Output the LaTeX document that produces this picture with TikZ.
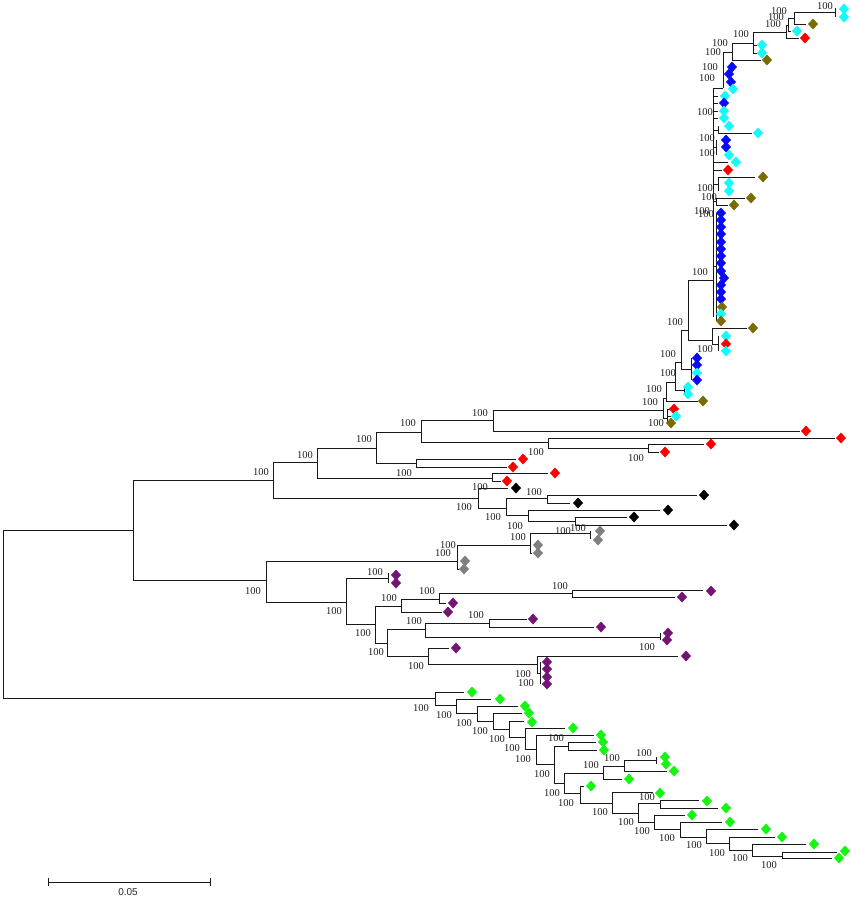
\documentclass[tikz,border=0pt]{standalone}
\usepackage{fontspec}
\usetikzlibrary{calc}
\setmainfont{Liberation Serif}
\setsansfont{Liberation Sans}
\definecolor{cy}{RGB}{20,250,250}
\definecolor{bl}{RGB}{10,10,245}
\definecolor{ol}{RGB}{122,108,0}
\definecolor{pu}{RGB}{118,20,118}
\definecolor{gr}{RGB}{20,245,20}
\definecolor{rd}{RGB}{250,0,0}
\definecolor{gy}{RGB}{128,128,128}
\definecolor{bk}{RGB}{0,0,0}
\newcounter{lbn}
\newcommand{\lb}[2]{\stepcounter{lbn}\node[lbl] (lb\thelbn) at (#1,#2) {100};}
\newcommand{\dm}[3]{\fill[#1] (#2,#3) +(0,-5.5) -- +(5,0) -- +(0,5.5) -- +(-5,0) -- cycle;}
\newcommand{\cl}[5]{\draw[br] (#3,#2) -- (#1,#2) -- (#1,#4) -- (#5,#4);}
\newcommand{\sg}[4]{\draw[br] (#1,#2) -- (#3,#4);}
\begin{document}
\begin{tikzpicture}[x=1pt,y=-1pt,
  br/.style={draw=black!90,line width=1pt},
  lbl/.style={font=\fontsize{10.5}{11}\selectfont,text=black!88,inner sep=0pt,anchor=center}]
\fill[white] (0,0) rectangle (851,897);
\useasboundingbox (0,0) rectangle (851,897);
% ---------- backbone ----------
\cl{3}{530}{133}{698}{435}
\cl{133}{480}{273}{580}{266}
\cl{273}{462}{317}{498}{478}
\cl{317}{448}{376}{478}{492}
\cl{376}{432}{421}{463}{416}
\cl{421}{420}{493}{442}{548}
\cl{493}{410}{663}{431}{800}
\cl{548}{438}{835}{448}{648}
\cl{648}{444}{704}{452}{659}
\cl{416}{459}{516}{467}{507}
\cl{492}{473}{548}{481}{501}
\dm{rd}{806}{431}\dm{rd}{841}{438}\dm{rd}{711}{444}\dm{rd}{665}{452}
\dm{rd}{523}{459}\dm{rd}{513}{467}\dm{rd}{555}{473}\dm{rd}{507}{481}
\lb{261}{472}\lb{305}{455}\lb{364}{439}\lb{408}{423}\lb{480}{413}
\lb{404}{473}\lb{536}{452}\lb{636}{458}
% ---------- black ----------
\cl{478}{488}{508}{508}{506}
\cl{506}{498}{547}{515}{528}
\cl{547}{495}{697}{503}{570}
\cl{528}{510}{660}{521}{575}
\cl{575}{517}{627}{525}{727}
\dm{bk}{516}{488}\dm{bk}{704}{495}\dm{bk}{578}{503}\dm{bk}{668}{510}
\dm{bk}{634}{517}\dm{bk}{734}{525}
\lb{480}{487}\lb{464}{507}\lb{493}{517}\lb{534}{492}\lb{515}{526}\lb{578}{528}
% ---------- gray ----------
\cl{266}{561}{457}{602}{346}
\cl{457}{545}{530}{569}{459}
\cl{530}{533}{590}{553}{532}
\sg{590}{531}{590}{539}
\dm{gy}{600}{531}\dm{gy}{598}{540}\dm{gy}{538}{545}\dm{gy}{538}{553}
\dm{gy}{465}{561}\dm{gy}{464}{569}
\lb{253}{591}\lb{448}{545}\lb{443}{553}\lb{518}{537}\lb{563}{531}
% ---------- purple ----------
\cl{346}{578}{388}{624}{375}
\sg{388}{573}{388}{583}
\cl{375}{606}{401}{643}{387}
\cl{401}{599}{439}{612}{442}
\cl{439}{593}{572}{603}{446}
\cl{572}{590}{703}{597}{675}
\cl{387}{629}{425}{656}{428}
\cl{425}{623}{489}{637}{660}
\sg{660}{633}{660}{640}
\cl{489}{619}{527}{627}{594}
\cl{428}{648}{449}{664}{537}
\cl{537}{656}{678}{673}{540}
\sg{540}{662}{540}{684}
\dm{pu}{396}{575}\dm{pu}{396}{583}\dm{pu}{448}{612}\dm{pu}{453}{603}
\dm{pu}{711}{591}\dm{pu}{682}{597}\dm{pu}{668}{633}\dm{pu}{667}{640}
\dm{pu}{533}{619}\dm{pu}{601}{627}\dm{pu}{456}{648}\dm{pu}{686}{656}
\dm{pu}{547}{662}\dm{pu}{547}{669}\dm{pu}{547}{677}\dm{pu}{547}{684}
\lb{334}{611}\lb{375}{572}\lb{363}{633}\lb{389}{598}\lb{427}{591}
\lb{560}{586}\lb{376}{652}\lb{414}{621}\lb{476}{615}\lb{647}{647}
\lb{416}{666}\lb{523}{674}\lb{526}{683}
% ---------- green ----------
\cl{435}{692}{464}{705}{456}
\cl{456}{699}{491}{713}{477}
\cl{477}{706}{518}{721}{493}
\cl{493}{713}{522}{729}{509}
\cl{509}{721}{524}{737}{525}
\cl{525}{728}{565}{749}{536}
\cl{536}{735}{594}{764}{554}
\cl{554}{746}{568}{783}{564}
\cl{568}{742}{596}{750}{597}
\cl{564}{773}{603}{793}{580}
\cl{603}{766}{624}{779}{622}
\cl{624}{760}{656}{771}{667}
\sg{656}{757}{656}{764}
\cl{580}{786}{584}{803}{612}
\cl{612}{792}{653}{813}{638}
\cl{638}{803}{660}{822}{654}
\cl{660}{800}{699}{808}{718}
\cl{654}{815}{685}{829}{680}
\cl{680}{822}{722}{837}{706}
\cl{706}{829}{758}{843}{729}
\cl{729}{837}{775}{850}{752}
\cl{752}{844}{806}{856}{782}
\cl{782}{852}{837}{858}{832}
\dm{gr}{472}{692}\dm{gr}{500}{699}\dm{gr}{525}{706}\dm{gr}{529}{713}
\dm{gr}{532}{722}\dm{gr}{573}{728}\dm{gr}{601}{735}\dm{gr}{603}{742}
\dm{gr}{604}{750}\dm{gr}{665}{757}\dm{gr}{666}{764}\dm{gr}{674}{771}
\dm{gr}{629}{779}\dm{gr}{591}{786}\dm{gr}{660}{793}\dm{gr}{707}{801}
\dm{gr}{726}{808}\dm{gr}{692}{815}\dm{gr}{730}{822}\dm{gr}{766}{829}
\dm{gr}{782}{837}\dm{gr}{814}{844}\dm{gr}{845}{851}\dm{gr}{839}{858}
\lb{421}{708}\lb{444}{715}\lb{464}{723}\lb{480}{731}\lb{497}{739}
\lb{512}{748}\lb{523}{759}\lb{556}{738}\lb{542}{774}\lb{552}{793}
\lb{591}{765}\lb{612}{758}\lb{644}{753}\lb{566}{803}\lb{600}{812}
\lb{647}{797}\lb{626}{822}\lb{642}{831}\lb{667}{838}\lb{694}{845}
\lb{717}{853}\lb{740}{858}\lb{769}{865}
% ---------- top clade ----------
\cl{663}{398}{666}{418}{667}
\sg{667}{409}{667}{423}\sg{667}{409}{670}{409}\sg{667}{416}{671}{416}
\cl{666}{382}{675}{401}{698}
\cl{675}{362}{681}{390}{684}
\sg{684}{387}{684}{394}
\cl{681}{330}{688}{369}{691}
\sg{691}{358}{691}{380}
\cl{688}{280}{713}{340}{712}
\cl{712}{328}{747}{344}{718}
\sg{718}{336}{718}{351}
\sg{713}{88}{713}{317}
\sg{716}{213}{716}{321}\sg{713}{266}{716}{266}
\sg{716}{198}{716}{205}\sg{713}{201}{716}{201}\sg{716}{198}{745}{198}\sg{716}{205}{728}{205}
\sg{718}{177}{718}{191}\sg{713}{184}{718}{184}\sg{718}{177}{755}{177}
\sg{713}{170}{722}{170}\sg{713}{162}{728}{162}
\sg{716}{140}{716}{155}\sg{713}{147}{716}{147}
\sg{718}{126}{718}{133}\sg{713}{130}{718}{130}\sg{718}{133}{752}{133}
\sg{713}{96}{718}{96}\sg{713}{103}{718}{103}\sg{713}{111}{718}{111}\sg{713}{118}{718}{118}
\sg{723}{52}{723}{88}\sg{713}{88}{723}{88}\sg{723}{52}{732}{52}
\sg{732}{43}{732}{60}\sg{732}{43}{753}{43}\sg{732}{60}{761}{60}
\sg{753}{32}{753}{53}\sg{753}{32}{786}{32}\sg{753}{45}{757}{45}\sg{753}{53}{757}{53}
\sg{786}{25}{786}{38}\sg{786}{38}{799}{38}\sg{786}{25}{788}{25}
\sg{788}{18}{788}{31}\sg{788}{31}{791}{31}\sg{788}{18}{794}{18}
\sg{794}{12}{794}{24}\sg{794}{12}{835}{12}\sg{835}{8}{835}{17}\sg{794}{24}{806}{24}
% top diamonds
\dm{cy}{844}{9}\dm{cy}{844}{17}\dm{ol}{813}{24}\dm{cy}{797}{31}\dm{rd}{805}{38}
\dm{cy}{762}{45}\dm{cy}{762}{53}\dm{ol}{767}{60}
\dm{bl}{732}{67}\dm{bl}{729}{74}\dm{bl}{731}{82}\dm{cy}{733}{89}
\dm{cy}{725}{96}\dm{bl}{724}{103}\dm{cy}{724}{111}\dm{cy}{724}{118}
\dm{cy}{729}{126}\dm{cy}{758}{133}\dm{bl}{726}{140}\dm{bl}{726}{147}
\dm{cy}{729}{155}\dm{cy}{736}{162}\dm{rd}{728}{170}\dm{ol}{763}{177}
\dm{cy}{729}{183}\dm{cy}{729}{191}\dm{ol}{751}{198}\dm{ol}{734}{205}
\foreach \yy in {213,220,227,234,242,249,256,263,271,285,292,299}{\dm{bl}{721}{\yy}}
\dm{bl}{724}{278}
\dm{ol}{722}{307}\dm{cy}{721}{314}\dm{ol}{721}{321}
\dm{ol}{753}{328}\dm{cy}{726}{336}\dm{rd}{726}{344}\dm{cy}{726}{351}
\dm{bl}{697}{358}\dm{bl}{697}{365}\dm{cy}{697}{373}\dm{bl}{697}{380}
\dm{cy}{688}{387}\dm{cy}{688}{394}\dm{ol}{703}{401}
\dm{rd}{674}{409}\dm{cy}{676}{416}\dm{ol}{671}{423}
% top labels
\lb{825}{6}\lb{779}{11}\lb{776}{17}\lb{773}{24}\lb{741}{34}\lb{720}{43}
\lb{713}{52}\lb{710}{67}\lb{707}{78}\lb{705}{112}\lb{707}{138}\lb{707}{153}
\lb{705}{188}\lb{709}{197}\lb{702}{211}\lb{706}{214}\lb{700}{272}
\lb{675}{322}\lb{705}{349}\lb{668}{354}\lb{668}{373}\lb{654}{389}
\lb{650}{402}\lb{656}{423}
% ---------- scale bar ----------
\coordinate (s0) at (48,882);
\coordinate (s1) at (210,882);
\draw[br] (s0) -- (s1);
\draw[br] ($(s0)+(0,-4)$) -- ($(s0)+(0,4)$);
\draw[br] ($(s1)+(0,-4)$) -- ($(s1)+(0,4)$);
\node[font=\sffamily\fontsize{10}{11}\selectfont,text=black!85,inner sep=0pt] (sl) at (128,892) {0.05};
\end{tikzpicture}
\end{document}
